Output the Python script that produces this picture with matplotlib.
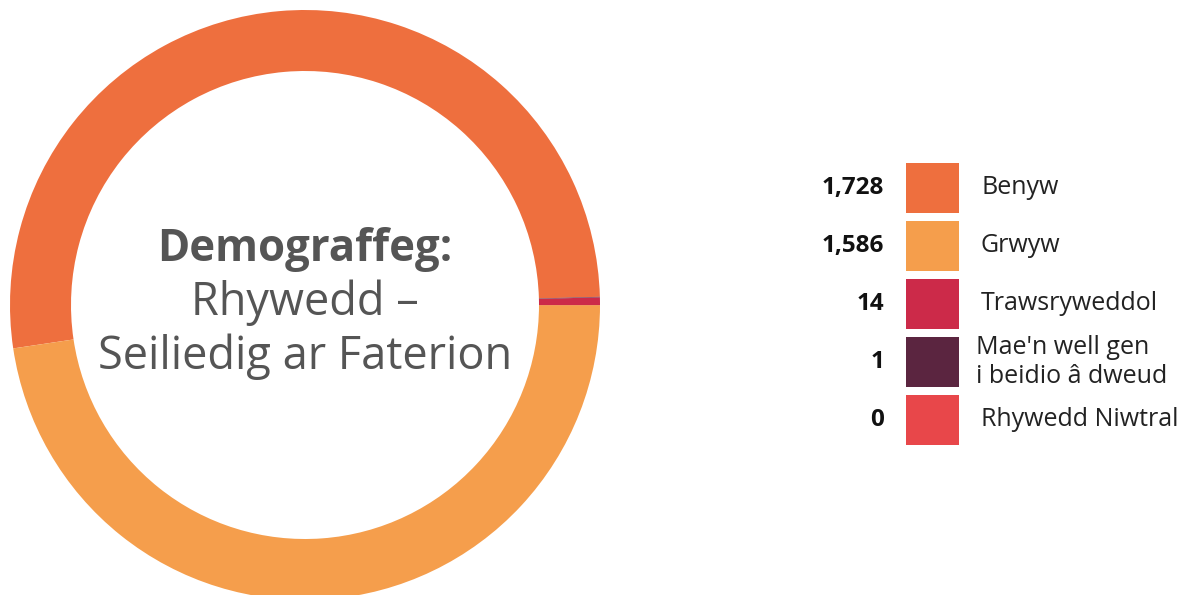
import matplotlib
matplotlib.use("Agg")
import matplotlib.pyplot as plt
from matplotlib.patches import Rectangle

# data
labels = ["Benyw", "Grwyw", "Trawsryweddol", "Mae'n well gen\ni beidio â dweud", "Rhywedd Niwtral"]
counts = [1728, 1586, 14, 1, 0]
count_text = ["1,728", "1,586", "14", "1", "0"]
colors = ["#EE6F3E", "#F59E4C", "#CC2A49", "#5B2540", "#E8474A"]
title_lines = ["Demograffeg:", "Rhywedd –", "Seiliedig ar Faterion"]

plt.rcParams['font.family'] = ['Open Sans', 'DejaVu Sans']

W, H = 1182, 595
fig = plt.figure(figsize=(W / 100, H / 100), dpi=100)
ax = fig.add_axes([0, 0, 1, 1])

# donut (pixel coords, y measured from bottom)
cx, cy = 305, H - 305
ax.pie(counts, colors=colors, center=(cx, cy), radius=295, startangle=1.6,
       counterclock=True, wedgeprops=dict(width=61, linewidth=0), frame=True)
ax.set_xlim(0, W)
ax.set_ylim(0, H)
ax.set_aspect('equal')
ax.axis('off')

# centre text
ax.text(cx, H - 250, title_lines[0], ha='center', va='center', fontsize=31.5,
        fontweight='bold', color='#555555')
ax.text(cx, H - 303, title_lines[1], ha='center', va='center', fontsize=32.5, color='#555555')
ax.text(cx, H - 357, title_lines[2], ha='center', va='center', fontsize=32.5, color='#555555')

# legend
top, pitch, sw, sh = 163, 58, 53, 50
for i, (lab, num, col) in enumerate(zip(labels, count_text, colors)):
    y0 = top + i * pitch
    yc = H - (y0 + sh / 2)
    ax.add_patch(Rectangle((906, H - y0 - sh), sw, sh, facecolor=col, edgecolor='none'))
    ax.text(884, yc, num, ha='right', va='center', fontsize=17.5, fontweight='bold', color='#111111')
    lx = 976 if '\n' in lab else 981
    ax.text(lx, yc, lab, ha='left', va='center', fontsize=18, color='#222222',
            linespacing=1.2)

fig.savefig("out.png", dpi=100)
